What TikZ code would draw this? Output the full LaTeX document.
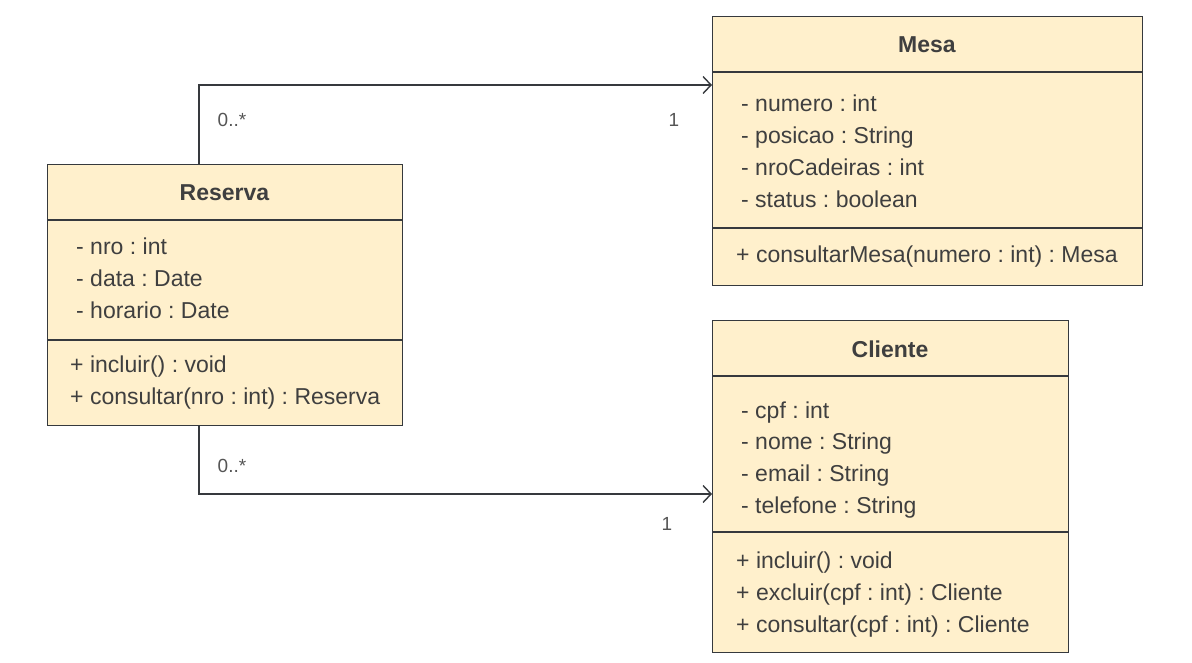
\documentclass[tikz,border=0pt]{standalone}
\usepackage{fontspec}
\setmainfont{Liberation Sans}
\usetikzlibrary{arrows.meta}
\definecolor{boxfill}{HTML}{FFF0CC}
\definecolor{boxline}{HTML}{36393D}
\definecolor{txt}{HTML}{3F3F3F}
\definecolor{lbl}{HTML}{555555}
\frenchspacing
\tikzset{
  classbox/.style={draw=boxline, fill=boxfill, line width=1.4pt, anchor=north west, inner sep=0pt},
  sep/.style={draw=boxline, line width=1.4pt},
  member/.style={anchor=base west, inner sep=0pt, text=txt, font=\fontsize{23}{26}\selectfont\frenchspacing},
  title/.style={anchor=base, inner sep=0pt, text=txt, font=\fontsize{23}{26}\selectfont\bfseries},
  mult/.style={anchor=base, inner sep=0pt, text=lbl, font=\fontsize{19}{22}\selectfont},
  assoc/.style={draw=boxline, line width=1.4pt, -{Straight Barb[length=8pt,width=17pt,line width=1.4pt]}}
}
\begin{document}
\begin{tikzpicture}[x=1pt,y=-1pt]
\useasboundingbox (0,0) rectangle (1192,663);
% Reserva
\node[classbox, minimum width=355pt, minimum height=261pt] (reserva) at (47,164) {};
\draw[sep] (47,220) -- (402,220);
\draw[sep] (47,340) -- (402,340);
\node[title] (rt) at (224.5,201) {Reserva};
\node[member] (r1) at (76,255) {- nro : int};
\node[member] (r2) at (76,287) {- data : Date};
\node[member] (r3) at (76,319) {- horario : Date};
\node[member] (r4) at (70,372) {+ incluir() : void};
\node[member] (r5) at (70,404) {+ consultar(nro : int) : Reserva};
% Mesa
\node[classbox, minimum width=430pt, minimum height=269pt] (mesa) at (712,16) {};
\draw[sep] (712,72) -- (1142,72);
\draw[sep] (712,228) -- (1142,228);
\node[title] (mt) at (927,53) {Mesa};
\node[member] (m1) at (741,112) {- numero : int};
\node[member] (m2) at (741,144) {- posicao : String};
\node[member] (m3) at (741,176) {- nroCadeiras : int};
\node[member] (m4) at (741,208) {- status : boolean};
\node[member] (m5) at (736,263) {+ consultarMesa(numero : int) : Mesa};
% Cliente
\node[classbox, minimum width=356pt, minimum height=332pt] (cliente) at (712,320) {};
\draw[sep] (712,376) -- (1068,376);
\draw[sep] (712,532) -- (1068,532);
\node[title] (ct) at (890,357) {Cliente};
\node[member] (c1) at (741,418) {- cpf : int};
\node[member] (c2) at (741,449) {- nome : String};
\node[member] (c3) at (741,481) {- email : String};
\node[member] (c4) at (741,513) {- telefone : String};
\node[member] (c5) at (736,568) {+ incluir() : void};
\node[member] (c6) at (736,600) {+ excluir(cpf : int) : Cliente};
\node[member] (c7) at (736,632) {+ consultar(cpf : int) : Cliente};
% connectors
\coordinate (rtop) at (199,164);
\coordinate (rbot) at (199,425);
\coordinate (min) at (712,85);
\coordinate (cin) at (712,494);
\draw[assoc] (rtop) |- (min);
\draw[assoc] (rbot) |- (cin);
\node[mult] (l1) at (232,127) {0..*};
\node[mult] (l2) at (674,127) {1};
\node[mult] (l3) at (232,472) {0..*};
\node[mult] (l4) at (667,530) {1};
\end{tikzpicture}
\end{document}
